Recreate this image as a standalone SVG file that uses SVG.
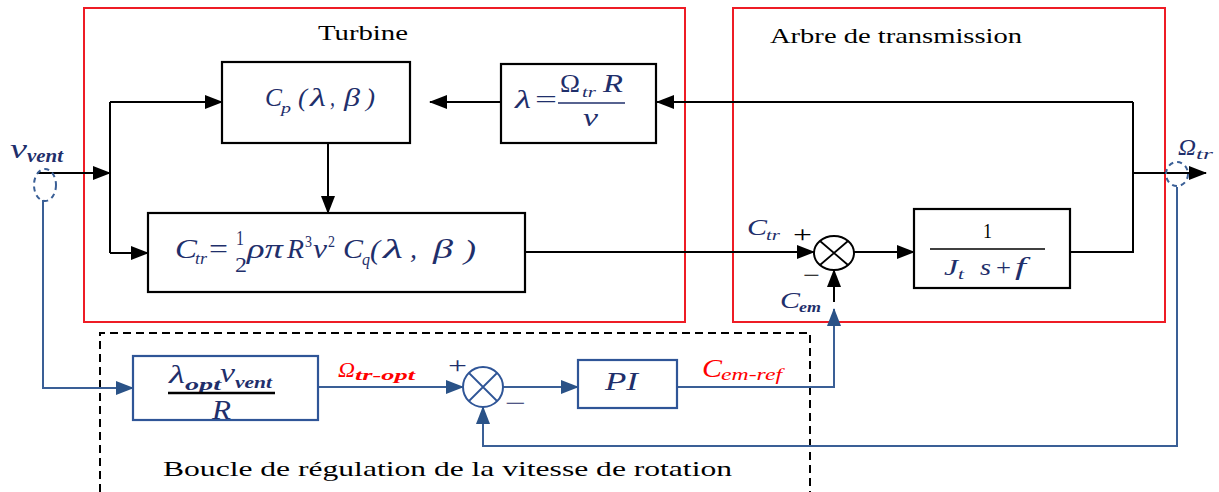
<svg xmlns="http://www.w3.org/2000/svg" width="1219" height="492" viewBox="0 0 1219 492">
<style>
.blk{fill:none;stroke:#000;stroke-width:2}
.blu{fill:none;stroke:#3a5f96;stroke-width:2}
.red{fill:none;stroke:#ee1c25;stroke-width:2}
.dash{fill:none;stroke:#000;stroke-width:2;stroke-dasharray:8,5}
.box{fill:#fff;stroke:#000;stroke-width:2.2}
.bbox{fill:#fff;stroke:#2f5597;stroke-width:2.2}
.m{font-family:"Liberation Serif","DejaVu Serif",serif;font-style:italic;fill:#1f2f6b}
.u{font-family:"Liberation Serif","DejaVu Serif",serif;fill:#1f2f6b}
.t{font-family:"Liberation Serif","DejaVu Serif",serif;fill:#000}
.r{font-family:"Liberation Serif","DejaVu Serif",serif;font-style:italic;fill:#ff0000}
.sum{fill:#fff;stroke:#000;stroke-width:2}
.bsum{fill:#fff;stroke:#2f5597;stroke-width:2}
.ell{fill:none;stroke:#3a5f96;stroke-width:2;stroke-dasharray:5,4}
</style>
<defs>
<marker id="ab" markerUnits="userSpaceOnUse" markerWidth="18" markerHeight="14" refX="17" refY="7" orient="auto"><path d="M0,0 L18,7 L0,14 z" fill="#000"/></marker>
<marker id="au" markerUnits="userSpaceOnUse" markerWidth="18" markerHeight="14" refX="17" refY="7" orient="auto"><path d="M0,0 L18,7 L0,14 z" fill="#2a5287"/></marker>
</defs>

<g id="frame-turbine">
<rect class="red" x="84" y="8" width="601" height="314"/>
<text class="t" x="318" y="40" font-size="21" textLength="90" lengthAdjust="spacingAndGlyphs">Turbine</text>
</g>
<g id="frame-arbre">
<rect class="red" x="733" y="8" width="432" height="314"/>
<text class="t" x="770" y="43" font-size="21" textLength="252" lengthAdjust="spacingAndGlyphs">Arbre de transmission</text>
</g>
<g id="frame-boucle">
<path class="dash" d="M100,492 V333 H810 V492"/>
<text class="t" x="163" y="476" font-size="21" textLength="569" lengthAdjust="spacingAndGlyphs">Boucle de régulation de la vitesse de rotation</text>
</g>

<g id="connectors">
<path class="blk" d="M37,173 H110" marker-end="url(#ab)"/>
<path class="blk" d="M110,102 V253"/>
<path class="blk" d="M110,102 H222" marker-end="url(#ab)"/>
<path class="blk" d="M110,253 H148" marker-end="url(#ab)"/>
<path class="blk" d="M328,143 V213" marker-end="url(#ab)"/>
<path class="blk" d="M501,102 H430" marker-end="url(#ab)"/>
<path class="blk" d="M1133,102 H657" marker-end="url(#ab)"/>
<path class="blk" d="M1070,252 H1133 V102"/>
<path class="blk" d="M1133,173 H1206" marker-end="url(#ab)"/>
<path class="blk" d="M525,252 H814" marker-end="url(#ab)"/>
<path class="blk" d="M854,252 H914" marker-end="url(#ab)"/>
<path class="blk" d="M834,302 V270" marker-end="url(#ab)"/>
<path class="blu" d="M43,200 V388 H133" marker-end="url(#au)"/>
<path class="blu" d="M318,387 H463" marker-end="url(#au)"/>
<path class="blu" d="M503,387 H578" marker-end="url(#au)"/>
<path class="blu" d="M677,387 H834 V309" marker-end="url(#au)"/>
<path class="blu" d="M1177,187 V446 H483 V407" marker-end="url(#au)"/>
</g>

<g id="vvent">
<ellipse class="ell" cx="45" cy="185" rx="11" ry="16"/>
<text class="m" x="10" y="158" font-size="28" textLength="17" lengthAdjust="spacingAndGlyphs">v</text>
<text class="m" x="27" y="162" font-size="19" font-weight="bold" textLength="36" lengthAdjust="spacingAndGlyphs">vent</text>
</g>
<g id="omega-tr">
<ellipse class="ell" cx="1177" cy="174" rx="11" ry="12"/>
<text class="m" x="1178" y="155" font-size="23" textLength="18" lengthAdjust="spacingAndGlyphs">Ω</text>
<text class="m" x="1196" y="159" font-size="15" textLength="17" lengthAdjust="spacingAndGlyphs">tr</text>
</g>

<g id="cp">
<rect class="box" x="222" y="62" width="188" height="81"/>
<text class="m" x="265" y="106" font-size="25" textLength="17" lengthAdjust="spacingAndGlyphs">C</text>
<text class="m" x="281" y="113" font-size="15" textLength="10" lengthAdjust="spacingAndGlyphs">p</text>
<text class="m" x="298" y="106" font-size="25" textLength="9" lengthAdjust="spacingAndGlyphs">(</text>
<text class="m" x="310" y="106" font-size="25" textLength="16" lengthAdjust="spacingAndGlyphs">λ</text>
<text class="m" x="330" y="106" font-size="25" textLength="5" lengthAdjust="spacingAndGlyphs">,</text>
<text class="m" x="344" y="106" font-size="25" textLength="16" lengthAdjust="spacingAndGlyphs">β</text>
<text class="m" x="366" y="106" font-size="25" textLength="9" lengthAdjust="spacingAndGlyphs">)</text>
</g>

<g id="lambda">
<rect class="box" x="501" y="64" width="155" height="79"/>
<text class="m" x="515" y="108" font-size="25" textLength="16" lengthAdjust="spacingAndGlyphs">λ</text>
<text class="u" x="535" y="108" font-size="25" textLength="22" lengthAdjust="spacingAndGlyphs">=</text>
<line x1="558" y1="103" x2="625" y2="103" stroke="#1f2f6b" stroke-width="1.4"/>
<text class="u" x="560" y="92" font-size="25" textLength="20" lengthAdjust="spacingAndGlyphs">Ω</text>
<text class="m" x="582" y="97" font-size="14" textLength="14" lengthAdjust="spacingAndGlyphs">tr</text>
<text class="m" x="603" y="92" font-size="25" textLength="20" lengthAdjust="spacingAndGlyphs">R</text>
<text class="m" x="583" y="126" font-size="25" textLength="15" lengthAdjust="spacingAndGlyphs">ν</text>
</g>

<g id="ctr">
<rect class="box" x="148" y="213" width="377" height="79"/>
<text class="m" x="175" y="258" font-size="27" textLength="22" lengthAdjust="spacingAndGlyphs">C</text>
<text class="m" x="195" y="264" font-size="16" textLength="12" lengthAdjust="spacingAndGlyphs">tr</text>
<text class="u" x="209" y="258" font-size="27" textLength="19" lengthAdjust="spacingAndGlyphs">=</text>
<text class="u" x="236" y="245" font-size="22" textLength="8" lengthAdjust="spacingAndGlyphs">1</text>
<text class="u" x="235" y="272" font-size="22" textLength="12" lengthAdjust="spacingAndGlyphs">2</text>
<text class="m" x="247" y="258" font-size="27" textLength="36" lengthAdjust="spacingAndGlyphs">ρπ</text>
<text class="m" x="287" y="258" font-size="27" textLength="17" lengthAdjust="spacingAndGlyphs">R</text>
<text class="u" x="305" y="247" font-size="16" textLength="7" lengthAdjust="spacingAndGlyphs">3</text>
<text class="m" x="313" y="258" font-size="27" textLength="14" lengthAdjust="spacingAndGlyphs">ν</text>
<text class="u" x="328" y="247" font-size="16" textLength="7" lengthAdjust="spacingAndGlyphs">2</text>
<text class="m" x="343" y="258" font-size="27" textLength="20" lengthAdjust="spacingAndGlyphs">C</text>
<text class="m" x="362" y="265" font-size="16" textLength="8" lengthAdjust="spacingAndGlyphs">q</text>
<text class="m" x="370" y="259" font-size="28" textLength="10" lengthAdjust="spacingAndGlyphs">(</text>
<text class="m" x="383" y="258" font-size="28" textLength="20" lengthAdjust="spacingAndGlyphs">λ</text>
<text class="m" x="410" y="258" font-size="28" textLength="7" lengthAdjust="spacingAndGlyphs">,</text>
<text class="m" x="433" y="258" font-size="28" textLength="20" lengthAdjust="spacingAndGlyphs">β</text>
<text class="m" x="464" y="259" font-size="28" textLength="12" lengthAdjust="spacingAndGlyphs">)</text>
</g>

<g id="sum-top">
<ellipse class="sum" cx="834" cy="253" rx="20" ry="17"/>
<path d="M820,241 L848,265 M848,241 L820,265" stroke="#000" stroke-width="1.8"/>
<text class="m" x="747" y="235" font-size="24" textLength="20" lengthAdjust="spacingAndGlyphs">C</text>
<text class="m" x="766" y="240" font-size="15" textLength="14" lengthAdjust="spacingAndGlyphs">tr</text>
<text class="t" x="793" y="242" font-size="24" textLength="19" lengthAdjust="spacingAndGlyphs">+</text>
<text class="t" x="803" y="283" font-size="24" textLength="17" lengthAdjust="spacingAndGlyphs">−</text>
<text class="m" x="780" y="308" font-size="24" textLength="20" lengthAdjust="spacingAndGlyphs">C</text>
<text class="m" x="799" y="312" font-size="15" font-weight="bold" textLength="22" lengthAdjust="spacingAndGlyphs">em</text>
</g>

<g id="transfer">
<rect class="box" x="914" y="209" width="156" height="79"/>
<text class="t" x="983" y="238" font-size="22" textLength="9" lengthAdjust="spacingAndGlyphs">1</text>
<line x1="930" y1="249" x2="1045" y2="249" stroke="#000" stroke-width="1.4"/>
<text class="m" x="944" y="275" font-size="24" textLength="14" lengthAdjust="spacingAndGlyphs">J</text>
<text class="m" x="958" y="279" font-size="14" textLength="6" lengthAdjust="spacingAndGlyphs">t</text>
<text class="m" x="980" y="275" font-size="24" textLength="11" lengthAdjust="spacingAndGlyphs">s</text>
<text class="u" x="996" y="275" font-size="24" textLength="15" lengthAdjust="spacingAndGlyphs">+</text>
<text class="m" x="1015" y="275" font-size="26" textLength="11" lengthAdjust="spacingAndGlyphs">f</text>
</g>

<g id="lambda-opt">
<rect class="bbox" x="133" y="356" width="185" height="64"/>
<text class="m" x="169" y="383" font-size="25" textLength="16" lengthAdjust="spacingAndGlyphs">λ</text>
<text class="m" x="185" y="390" font-size="16" font-weight="bold" textLength="36" lengthAdjust="spacingAndGlyphs">opt</text>
<text class="m" x="220" y="382" font-size="28" textLength="15" lengthAdjust="spacingAndGlyphs">v</text>
<text class="m" x="235" y="388" font-size="16" font-weight="bold" textLength="37" lengthAdjust="spacingAndGlyphs">vent</text>
<line x1="168" y1="393" x2="275" y2="393" stroke="#000" stroke-width="2.5"/>
<text class="m" x="212" y="419" font-size="28" textLength="19" lengthAdjust="spacingAndGlyphs">R</text>
</g>
<g id="omega-opt-label">
<text class="r" x="338" y="377" font-size="22" textLength="17" lengthAdjust="spacingAndGlyphs">Ω</text>
<text class="r" x="355" y="380" font-size="15" font-weight="bold" textLength="60" lengthAdjust="spacingAndGlyphs">tr-opt</text>
</g>

<g id="sum-bottom">
<circle class="bsum" cx="483" cy="387" r="20"/>
<path d="M469,373 L497,401 M497,373 L469,401" stroke="#2f5597" stroke-width="1.8"/>
<text class="u" x="448" y="373" font-size="24" textLength="19" lengthAdjust="spacingAndGlyphs">+</text>
<text class="u" x="505" y="411" font-size="24" textLength="21" lengthAdjust="spacingAndGlyphs">−</text>
</g>

<g id="pi">
<rect class="bbox" x="578" y="360" width="99" height="48"/>
<text class="m" x="605" y="390" font-size="25" textLength="33" lengthAdjust="spacingAndGlyphs">PI</text>
</g>
<g id="cem-ref-label">
<text class="r" x="702" y="377" font-size="25" textLength="20" lengthAdjust="spacingAndGlyphs">C</text>
<text class="r" x="721" y="380" font-size="16" textLength="61" lengthAdjust="spacingAndGlyphs">em-ref</text>
</g>
</svg>
